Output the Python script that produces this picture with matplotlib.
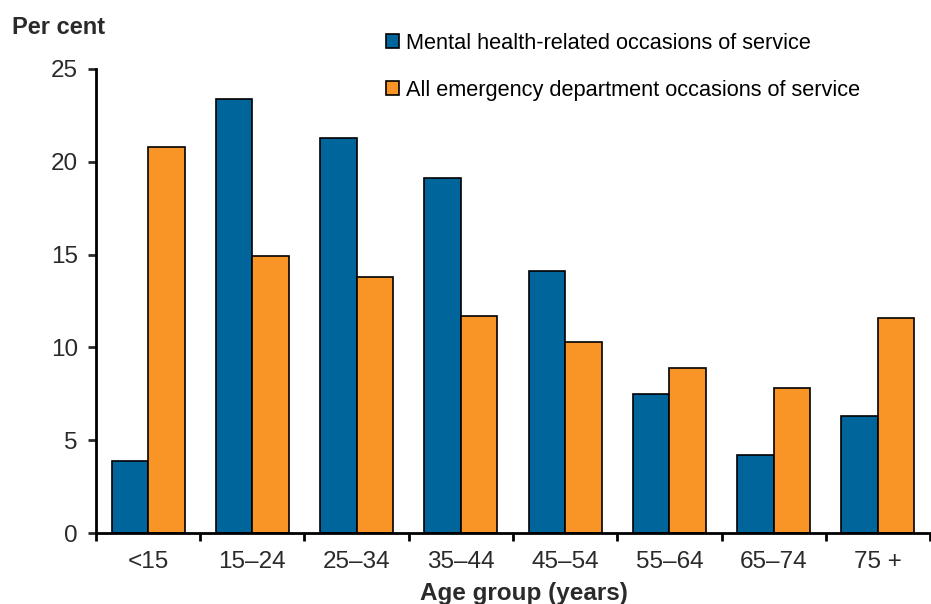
import numpy as np
from matplotlib import pyplot as plt

plt.rcParams['font.family'] = ['Liberation Sans', 'DejaVu Sans']

groups = ['<15', '15–24', '25–34', '35–44', '45–54', '55–64', '65–74', '75 +']
mental = [3.9, 23.4, 21.3, 19.1, 14.1, 7.5, 4.2, 6.3]
all_ed = [20.8, 14.9, 13.8, 11.7, 10.3, 8.9, 7.8, 11.6]
series_names = ['Mental health-related occasions of service',
                'All emergency department occasions of service']
yticks = [0, 5, 10, 15, 20, 25]

blue = '#00659a'
orange = '#f99427'
txt = '#2a2a2a'

fig = plt.figure(figsize=(9.31, 6.04), dpi=100)
ax = fig.add_axes([0.103, 0.1175, 0.896, 0.7685])

x = np.arange(len(groups))
w = 0.35
ax.bar(x - w/2, mental, w, color=blue, edgecolor='black', linewidth=1.2, label=series_names[0])
ax.bar(x + w/2, all_ed, w, color=orange, edgecolor='black', linewidth=1.2, label=series_names[1])

ax.set_xlim(-0.5, len(groups) - 0.5)
ax.set_ylim(0, 25)
ax.set_yticks(yticks)
ax.tick_params(axis='y', labelsize=17.5, width=2, length=6, pad=7, colors=txt)
# group labels centered, ticks between groups
ax.set_xticks(np.arange(len(groups) + 1) - 0.5)
ax.set_xticklabels([])
ax.set_xticks(x, minor=True)
ax.set_xticklabels(groups, minor=True, fontsize=17.5, color=txt)
ax.tick_params(axis='x', which='major', width=2, length=6)
ax.tick_params(axis='x', which='minor', length=0, pad=13)

for s in ['top', 'right']:
    ax.spines[s].set_visible(False)
for s in ['left', 'bottom']:
    ax.spines[s].set_linewidth(2)

fig.text(0.013, 0.955, 'Per cent', fontsize=17, fontweight='bold', color=txt, va='center')
fig.text(0.563, 0.017, 'Age group (years)', fontsize=17.5, fontweight='bold', color=txt, ha='center', va='center')

ax.legend(loc='upper left', bbox_to_anchor=(0.405, 0.96), bbox_transform=fig.transFigure,
          frameon=False, fontsize=15.7, handlelength=0.6, handleheight=0.6,
          handletextpad=0.35, labelspacing=1.2, borderaxespad=0)

fig.savefig('out.png', dpi=100)
